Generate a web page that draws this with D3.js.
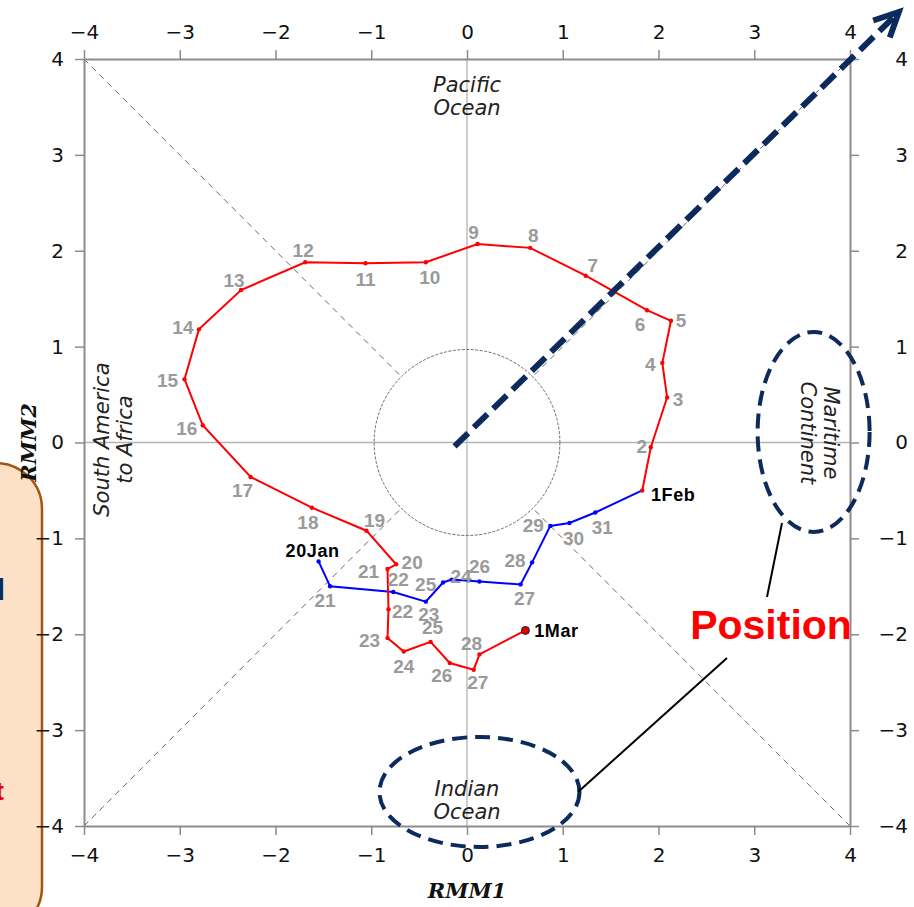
<!DOCTYPE html>
<html>
<head>
<meta charset="utf-8">
<script src="https://cdn.jsdelivr.net/npm/d3@7"></script>
<style>
  html, body { margin: 0; padding: 0; background: #fff; }
  svg { display: block; }
</style>
</head>
<body>
<svg id="chart" width="914" height="907"></svg>
<script>
// MJO phase-space trajectory (RMM1 vs RMM2), 20 Jan – 1 Mar

// January segment (blue), days 20..31
const janDays = [20, 21, 22, 23, 24, 25, 26, 27, 28, 29, 30, 31];
const janRmm1 = [-1.55, -1.43, -0.77, -0.43, -0.25, -0.16, 0.13, 0.56, 0.68, 0.87, 1.07, 1.34];
const janRmm2 = [-1.24, -1.50, -1.56, -1.66, -1.46, -1.43, -1.45, -1.48, -1.25, -0.87, -0.84, -0.73];

// February segment (red), days 1..28, then 1 March
const febDays = [1, 2, 3, 4, 5, 6, 7, 8, 9, 10, 11, 12, 13, 14, 15, 16, 17, 18, 19, 20, 21, 22, 23, 24, 25, 26, 27, 28, 1];
const febRmm1 = [1.83, 1.92, 2.09, 2.04, 2.13, 1.88, 1.24, 0.66, 0.11, -0.43, -1.06, -1.69, -2.36, -2.80, -2.95, -2.76, -2.26, -1.62, -1.05, -0.74, -0.83, -0.82, -0.83, -0.66, -0.38, -0.18, 0.07, 0.13, 0.61];
const febRmm2 = [-0.50, -0.05, 0.47, 0.83, 1.27, 1.38, 1.74, 2.03, 2.07, 1.88, 1.87, 1.88, 1.59, 1.18, 0.66, 0.18, -0.36, -0.68, -0.92, -1.27, -1.32, -1.74, -2.04, -2.18, -2.08, -2.30, -2.37, -2.21, -1.96];

// Axis ticks
const tickValues = [-4, -3, -2, -1, 0, 1, 2, 3, 4];

// Day-label nudges (px) so numbers sit clear of the track
const janLabelNudge = [[-6,-11],[-5,14],[5,-13],[3,13],[18,-6],[-26,5],[0,-15],[4,14],[-17,-2],[-17,-1],[4,15],[7,15]];
const febLabelNudge = [[31,4],[-9,-1],[11,2],[-12,1],[10,-1],[-7,14],[7,-11],[3,-13],[-4,-12],[4,15],[0,16],[-2,-12],[-7,-10],[-16,-2],[-17,1],[-16,3],[-8,13],[-4,14],[8,-11],[16,-2],[-19,2],[14,2],[-18,2],[0,15],[2,-15],[-8,12],[4,12],[-8,-11],[31,0]];

const svg = d3.select("#chart");
const x = d3.scaleLinear().domain([-4, 4]).range([84, 850]);
const y = d3.scaleLinear().domain([-4, 4]).range([826, 59]);

const FONT = "'DejaVu Sans', sans-serif";
const SANS = "'Liberation Sans', Arial, sans-serif";
const frameGray = "#8c8c8c";
const navy = "#0c2a5c";

// ---- left callout box (partly off canvas) ----
svg.append("rect")
  .attr("x", -80).attr("y", 463).attr("width", 122).attr("height", 470)
  .attr("rx", 46).attr("ry", 46)
  .attr("fill", "#fde1c7").attr("stroke", "#a4540c").attr("stroke-width", 2.5);
svg.append("text").attr("x", 5).attr("y", 600).attr("text-anchor", "end")
  .attr("font-family", SANS).attr("font-weight", "bold")
  .attr("font-size", 30).attr("fill", navy).text("l");
svg.append("text").attr("x", 4).attr("y", 800).attr("text-anchor", "end")
  .attr("font-family", SANS).attr("font-weight", "bold")
  .attr("font-size", 26).attr("fill", "#e00000").text("t");

// ---- reference lines ----
const g = svg.append("g");
g.append("line").attr("x1", x(0)).attr("x2", x(0)).attr("y1", y(-4)).attr("y2", y(4))
  .attr("stroke", "#b4b4b4").attr("stroke-width", 1.3);
g.append("line").attr("x1", x(-4)).attr("x2", x(4)).attr("y1", y(0)).attr("y2", y(0))
  .attr("stroke", "#b4b4b4").attr("stroke-width", 1.3);

// diagonal phase boundaries from the corners to the unit circle
const r45 = Math.SQRT1_2;
[[-1, 1], [1, 1], [1, -1], [-1, -1]].forEach(([sx, sy]) => {
  g.append("line")
    .attr("x1", x(4 * sx)).attr("y1", y(4 * sy))
    .attr("x2", x(r45 * sx)).attr("y2", y(r45 * sy))
    .attr("stroke", "#6a6a6a").attr("stroke-width", 1)
    .attr("stroke-dasharray", "6,5");
});

// unit amplitude circle
g.append("ellipse")
  .attr("cx", x(0)).attr("cy", y(0))
  .attr("rx", x(0.97) - x(0)).attr("ry", y(0) - y(0.97))
  .attr("fill", "none").attr("stroke", "#6a6a6a").attr("stroke-width", 1)
  .attr("stroke-dasharray", "3,1.5");

// ---- axes ----
function styleAxis(sel) {
  sel.select(".domain").attr("stroke", frameGray).attr("stroke-width", 2);
  sel.selectAll(".tick line").attr("stroke", frameGray).attr("stroke-width", 1.5);
  sel.selectAll(".tick text").attr("font-family", FONT).attr("font-size", 20).attr("fill", "#111");
}
const fmt = d3.format("d");
svg.append("g").attr("transform", `translate(0,${y(4)})`)
  .call(d3.axisTop(x).tickValues(tickValues).tickFormat(fmt).tickSize(9).tickSizeOuter(0).tickPadding(11))
  .call(styleAxis);
svg.append("g").attr("transform", `translate(0,${y(-4)})`)
  .call(d3.axisBottom(x).tickValues(tickValues).tickFormat(fmt).tickSize(9).tickSizeOuter(0).tickPadding(13))
  .call(styleAxis);
svg.append("g").attr("transform", `translate(${x(-4)},0)`)
  .call(d3.axisLeft(y).tickValues(tickValues).tickFormat(fmt).tickSize(9).tickSizeOuter(0).tickPadding(11))
  .call(styleAxis);
svg.append("g").attr("transform", `translate(${x(4)},0)`)
  .call(d3.axisRight(y).tickValues(tickValues).tickFormat(fmt).tickSize(9).tickSizeOuter(0).tickPadding(49))
  .call(styleAxis)
  .call(s => s.selectAll(".tick text").attr("text-anchor", "end"));

// axis titles
svg.append("text")
  .attr("x", x(0)).attr("y", 898).attr("text-anchor", "middle")
  .attr("font-family", "'DejaVu Serif', serif").attr("font-style", "italic").attr("font-weight", "bold")
  .attr("font-size", 21).attr("fill", "#111").text("RMM1");
svg.append("text")
  .attr("transform", `translate(36,${y(0)}) rotate(-90)`).attr("text-anchor", "middle")
  .attr("font-family", "'DejaVu Serif', serif").attr("font-style", "italic").attr("font-weight", "bold")
  .attr("font-size", 21).attr("fill", "#111").text("RMM2");

// region names
function region(lines, cx, cy, rot) {
  const t = svg.append("text")
    .attr("transform", `translate(${cx},${cy}) rotate(${rot})`)
    .attr("text-anchor", "middle")
    .attr("font-family", FONT).attr("font-style", "italic")
    .attr("font-size", 21).attr("fill", "#222");
  lines.forEach((l, i) => {
    t.append("tspan").attr("x", 0).attr("y", (i - (lines.length - 1) / 2) * 23).attr("dy", "0.36em").text(l);
  });
}
region(["Pacific", "Ocean"], x(0), 96, 0);
region(["Indian", "Ocean"], x(0), 800, 0);
region(["South America", "to Africa"], 113, y(0.03), -90);
region(["Maritime", "Continent"], 820, y(0.1), 90);

// ---- trajectory ----
const janPts = janDays.map((d, i) => ({ day: d, a: janRmm1[i], b: janRmm2[i] }));
const febPts = febDays.map((d, i) => ({ day: d, a: febRmm1[i], b: febRmm2[i] }));
const line = d3.line().x(p => x(p.a)).y(p => y(p.b));

const track = svg.append("g");
track.append("path").datum(janPts.concat([febPts[0]]))
  .attr("d", line).attr("fill", "none").attr("stroke", "#0000ff").attr("stroke-width", 2);
track.append("path").datum(febPts)
  .attr("d", line).attr("fill", "none").attr("stroke", "#ff0000").attr("stroke-width", 2);
track.selectAll(".jd").data(janPts).join("circle")
  .attr("cx", p => x(p.a)).attr("cy", p => y(p.b)).attr("r", 2.2).attr("fill", "#0000ff");
track.selectAll(".fd").data(febPts.slice(0, -1)).join("circle")
  .attr("cx", p => x(p.a)).attr("cy", p => y(p.b)).attr("r", 2.2).attr("fill", "#ff0000");
const last = febPts[febPts.length - 1];
track.append("circle").attr("cx", x(last.a)).attr("cy", y(last.b)).attr("r", 4)
  .attr("fill", "#e00000").attr("stroke", "#222").attr("stroke-width", 1);

// day labels
function dayLabel(p, nudge, text, bold) {
  track.append("text")
    .attr("x", x(p.a) + nudge[0]).attr("y", y(p.b) + nudge[1])
    .attr("text-anchor", "middle").attr("dy", "0.36em")
    .attr("font-family", SANS).attr("font-weight", "bold")
    .attr("font-size", bold ? 18 : 19)
    .attr("letter-spacing", bold ? 0.6 : 0)
    .attr("fill", bold ? "#000" : "#9a9a9a").text(text);
}
janPts.forEach((p, i) => dayLabel(p, janLabelNudge[i], i === 0 ? p.day + "Jan" : String(p.day), i === 0));
febPts.forEach((p, i) => {
  const isFirst = i === 0, isLast = i === febPts.length - 1;
  const txt = isFirst ? p.day + "Feb" : isLast ? p.day + "Mar" : String(p.day);
  dayLabel(p, febLabelNudge[i], txt, isFirst || isLast);
});

// ---- annotations ----
const ann = svg.append("g");
// direction arrow
const a0 = [x(-0.13), y(-0.04)], a1 = [x(4.51), y(4.49)];
ann.append("line").attr("x1", a0[0]).attr("y1", a0[1]).attr("x2", a1[0] - 5).attr("y2", a1[1] + 5)
  .attr("stroke", navy).attr("stroke-width", 6).attr("stroke-dasharray", "19,8");
const ang = Math.atan2(a0[1] - a1[1], a0[0] - a1[0]);
const headLen = 27, spread = 26 * Math.PI / 180;
ann.append("polyline")
  .attr("points", [
    [a1[0] + headLen * Math.cos(ang + spread), a1[1] + headLen * Math.sin(ang + spread)],
    a1,
    [a1[0] + headLen * Math.cos(ang - spread), a1[1] + headLen * Math.sin(ang - spread)]
  ].map(p => p.join(",")).join(" "))
  .attr("fill", "none").attr("stroke", navy).attr("stroke-width", 6)
  .attr("stroke-linejoin", "miter").attr("stroke-linecap", "butt");

// highlight rings around region names
ann.append("ellipse").attr("cx", x(3.62)).attr("cy", y(0.11)).attr("rx", 56).attr("ry", 100)
  .attr("fill", "none").attr("stroke", navy).attr("stroke-width", 4).attr("stroke-dasharray", "15,8");
ann.append("ellipse").attr("cx", x(0.13)).attr("cy", y(-3.645)).attr("rx", 100).attr("ry", 55)
  .attr("fill", "none").attr("stroke", navy).attr("stroke-width", 4).attr("stroke-dasharray", "15,8");

// callout leaders and caption
ann.append("line").attr("x1", 782).attr("y1", 523).attr("x2", 767).attr("y2", 597)
  .attr("stroke", "#000").attr("stroke-width", 2);
ann.append("line").attr("x1", 727).attr("y1", 658).attr("x2", 578).attr("y2", 792)
  .attr("stroke", "#000").attr("stroke-width", 2);
ann.append("text").attr("x", 771).attr("y", 639).attr("text-anchor", "middle")
  .attr("font-family", SANS).attr("font-weight", "bold")
  .attr("font-size", 41).attr("fill", "#ff0000").text("Position");
</script>
</body>
</html>
